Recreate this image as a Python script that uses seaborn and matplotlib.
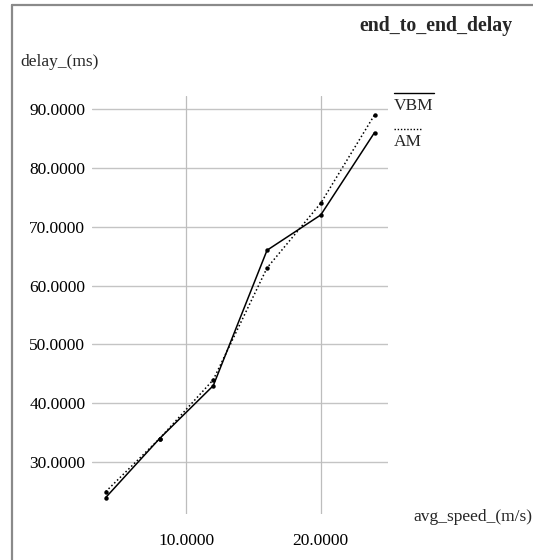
import matplotlib
matplotlib.use("Agg")
import matplotlib.pyplot as plt
from matplotlib.lines import Line2D
import seaborn as sns
import pandas as pd

# Average node speed (m/s) and measured end-to-end delay (ms)
avg_speed = [4, 8, 12, 16, 20, 24]
delay_vbm = [24, 34, 43, 66, 72, 86]
delay_am = [25, 34, 44, 63, 74, 89]
series_names = ["VBM", "AM"]
x_ticks = [10, 20]
y_ticks = [30, 40, 50, 60, 70, 80, 90]

sns.set_theme(style="white")
plt.rcParams["font.family"] = ["Liberation Serif", "DejaVu Serif"]

df = pd.DataFrame({
    "speed": avg_speed * 2,
    "delay": delay_vbm + delay_am,
    "scheme": [series_names[0]] * len(avg_speed) + [series_names[1]] * len(avg_speed),
})

W, H = 533, 560
fig = plt.figure(figsize=(W / 100, H / 100), dpi=100)
ax = fig.add_axes([92.3 / W, 1 - 514 / H, (388 - 92.3) / W, (514 - 96) / H])

sns.lineplot(data=df, x="speed", y="delay", style="scheme",
             dashes={"VBM": "", "AM": (1, 1.6)}, markers={"VBM": "o", "AM": "o"},
             color="black", linewidth=1.1, markersize=3.2, markeredgewidth=0,
             legend=False, ax=ax, zorder=3)

ax.set_xlim(3, 25)
ax.set_ylim(21.2, 92.2)
ax.set_xticks(x_ticks)
ax.set_xticklabels([f"{v:.4f}" for v in x_ticks])
ax.set_yticks(y_ticks)
ax.set_yticklabels([f"{v:.4f}" for v in y_ticks])
ax.tick_params(axis="both", length=0, labelsize=12.5, colors="black")
ax.tick_params(axis="x", pad=14)
ax.tick_params(axis="y", pad=5)
ax.grid(False)
for v in y_ticks:
    ax.axhline(v, color="#c4c4c4", linewidth=1.0, zorder=1)
for v in x_ticks:
    ax.axvline(v, color="#bdbdbd", linewidth=0.9, zorder=1)
for s in ax.spines.values():
    s.set_visible(False)
ax.set_xlabel("")
ax.set_ylabel("")
ax.patch.set_alpha(0)

# Axis captions and title
fig.text(20 / W, 1 - 62 / H, "delay_(ms)", fontsize=12.5, ha="left", va="center")
fig.text(532 / W, 1 - 517 / H, "avg_speed_(m/s)", fontsize=12.5, ha="right", va="center")
fig.text(513 / W, 1 - 26 / H, "end_to_end_delay", fontsize=14.3, fontweight="bold",
         ha="right", va="center")

# Key: a sample line drawn above each series name
key_styles = ["-", (0, (1, 1.3))]
key_y = [93, 129]
key_w = [434, 422]
for name, ls, yk, xe in zip(series_names, key_styles, key_y, key_w):
    fig.add_artist(Line2D([394 / W, xe / W], [1 - yk / H, 1 - yk / H],
                          color="black", linewidth=1.0, linestyle=ls))
    fig.text(394 / W, 1 - (yk + 12.5) / H, name, fontsize=12.5, ha="left", va="center")

# Frame strokes along the left and top edges
fig.add_artist(Line2D([11.5 / W, 11.5 / W], [0, 1 - 4.5 / H], color="#8a8a8a", linewidth=1.6))
fig.add_artist(Line2D([11.5 / W, 1], [1 - 4.5 / H, 1 - 4.5 / H], color="#8a8a8a", linewidth=1.6))

fig.savefig("out.png", dpi=100, facecolor="white")
